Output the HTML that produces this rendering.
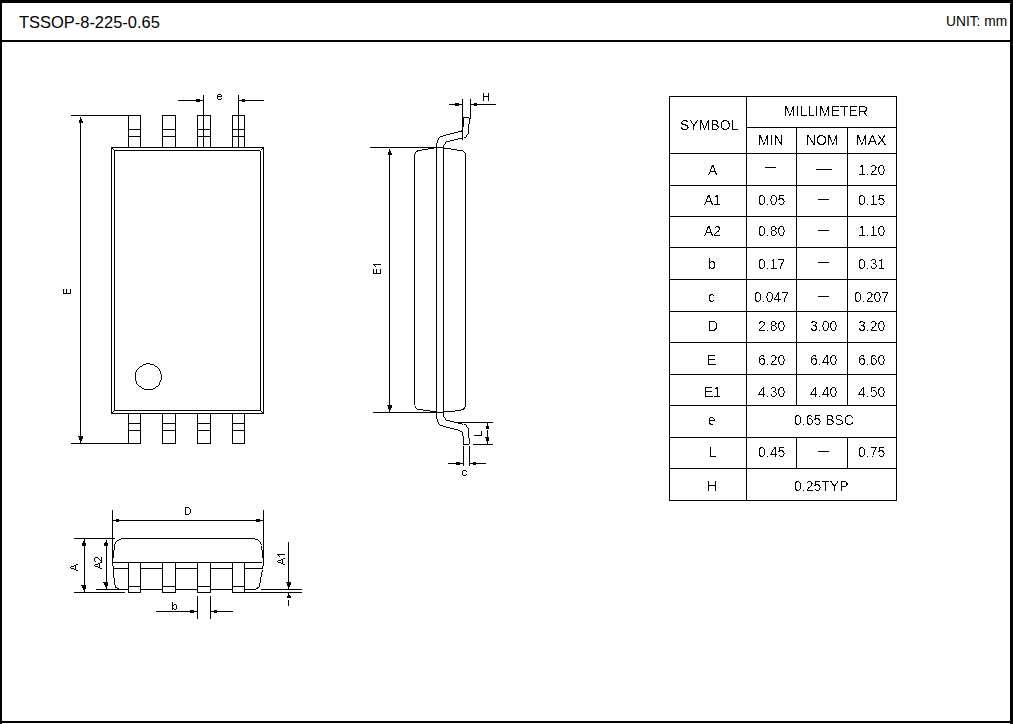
<!DOCTYPE html>
<html><head><meta charset="utf-8"><style>
html,body{margin:0;padding:0;background:#fff;width:1013px;height:724px;overflow:hidden}
svg{display:block}
.s{fill:none;stroke:#000;stroke-width:1}
text{font-family:"Liberation Sans",sans-serif;fill:#000}
</style></head><body>
<svg width="1013" height="724" viewBox="0 0 1013 724" shape-rendering="crispEdges">
<defs><filter id="th" x="-20%" y="-20%" width="140%" height="140%"><feComponentTransfer><feFuncA type="discrete" tableValues="0 0 0 1 1"/></feComponentTransfer></filter></defs>
<rect x="0" y="0" width="1013" height="724" fill="#fff"/>
<rect x="0" y="0" width="1013" height="3"/>
<rect x="0" y="0" width="2" height="724"/>
<rect x="1010" y="0" width="3" height="724"/>
<rect x="0" y="721" width="1013" height="2"/>
<rect x="0" y="40" width="1013" height="2"/>
<rect x="111" y="147" width="153" height="1"/>
<rect x="111" y="413" width="153" height="1"/>
<rect x="111" y="147" width="1" height="267"/>
<rect x="263" y="147" width="1" height="267"/>
<rect x="114" y="150" width="146" height="1"/>
<rect x="260" y="151" width="1" height="260"/>
<rect x="114" y="410" width="147" height="1"/>
<rect x="114" y="150" width="1" height="261"/>
<rect x="112" y="148" width="1" height="1"/>
<rect x="113" y="149" width="1" height="1"/>
<rect x="262" y="148" width="1" height="1"/>
<rect x="261" y="149" width="1" height="1"/>
<rect x="112" y="412" width="1" height="1"/>
<rect x="113" y="411" width="1" height="1"/>
<rect x="262" y="412" width="1" height="1"/>
<rect x="261" y="411" width="1" height="1"/>
<rect x="128" y="115" width="13" height="1"/>
<rect x="128" y="115" width="1" height="33"/>
<rect x="140" y="115" width="1" height="33"/>
<rect x="128" y="129" width="13" height="1"/>
<rect x="128" y="136" width="13" height="1"/>
<rect x="128" y="413" width="1" height="31"/>
<rect x="140" y="413" width="1" height="31"/>
<rect x="128" y="423" width="13" height="1"/>
<rect x="128" y="430" width="13" height="1"/>
<rect x="128" y="443" width="13" height="1"/>
<rect x="162" y="115" width="14" height="1"/>
<rect x="162" y="115" width="1" height="33"/>
<rect x="175" y="115" width="1" height="33"/>
<rect x="162" y="129" width="14" height="1"/>
<rect x="162" y="136" width="14" height="1"/>
<rect x="162" y="413" width="1" height="31"/>
<rect x="175" y="413" width="1" height="31"/>
<rect x="162" y="423" width="14" height="1"/>
<rect x="162" y="430" width="14" height="1"/>
<rect x="162" y="443" width="14" height="1"/>
<rect x="197" y="115" width="14" height="1"/>
<rect x="197" y="115" width="1" height="33"/>
<rect x="210" y="115" width="1" height="33"/>
<rect x="197" y="129" width="14" height="1"/>
<rect x="197" y="136" width="14" height="1"/>
<rect x="197" y="413" width="1" height="31"/>
<rect x="210" y="413" width="1" height="31"/>
<rect x="197" y="423" width="14" height="1"/>
<rect x="197" y="430" width="14" height="1"/>
<rect x="197" y="443" width="14" height="1"/>
<rect x="232" y="115" width="13" height="1"/>
<rect x="232" y="115" width="1" height="33"/>
<rect x="244" y="115" width="1" height="33"/>
<rect x="232" y="129" width="13" height="1"/>
<rect x="232" y="136" width="13" height="1"/>
<rect x="232" y="413" width="1" height="31"/>
<rect x="244" y="413" width="1" height="31"/>
<rect x="232" y="423" width="13" height="1"/>
<rect x="232" y="430" width="13" height="1"/>
<rect x="232" y="443" width="13" height="1"/>
<rect x="71" y="115" width="58" height="1"/>
<rect x="71" y="443" width="58" height="1"/>
<rect x="80" y="117" width="1" height="326"/>
<rect x="80" y="119" width="2" height="1"/>
<rect x="79" y="120" width="3" height="1"/>
<rect x="79" y="121" width="4" height="1"/>
<rect x="79" y="122" width="4" height="1"/>
<rect x="80" y="440" width="2" height="1"/>
<rect x="79" y="439" width="3" height="1"/>
<rect x="79" y="438" width="4" height="1"/>
<rect x="79" y="437" width="4" height="1"/>
<rect x="78" y="436" width="5" height="1"/>
<rect x="203" y="95" width="1" height="53"/>
<rect x="238" y="95" width="1" height="53"/>
<rect x="178" y="100" width="26" height="1"/>
<rect x="196" y="99" width="4" height="3"/>
<rect x="238" y="100" width="26" height="1"/>
<rect x="242" y="99" width="3" height="3"/>
<rect x="135" y="372" width="1" height="9"/>
<rect x="161" y="374" width="1" height="6"/>
<rect x="136" y="370" width="1" height="2"/>
<rect x="136" y="381" width="1" height="3"/>
<rect x="137" y="369" width="1" height="1"/>
<rect x="137" y="384" width="1" height="1"/>
<rect x="138" y="368" width="1" height="1"/>
<rect x="138" y="385" width="1" height="1"/>
<rect x="139" y="367" width="1" height="1"/>
<rect x="139" y="386" width="2" height="1"/>
<rect x="140" y="366" width="2" height="1"/>
<rect x="141" y="387" width="1" height="1"/>
<rect x="142" y="365" width="1" height="1"/>
<rect x="142" y="388" width="2" height="1"/>
<rect x="143" y="364" width="3" height="1"/>
<rect x="146" y="363" width="4" height="1"/>
<rect x="150" y="364" width="4" height="1"/>
<rect x="154" y="365" width="1" height="1"/>
<rect x="155" y="366" width="2" height="1"/>
<rect x="157" y="367" width="1" height="1"/>
<rect x="158" y="368" width="1" height="1"/>
<rect x="159" y="369" width="1" height="2"/>
<rect x="160" y="371" width="1" height="3"/>
<rect x="160" y="380" width="1" height="2"/>
<rect x="159" y="382" width="1" height="3"/>
<rect x="158" y="385" width="1" height="1"/>
<rect x="156" y="386" width="2" height="1"/>
<rect x="155" y="387" width="1" height="1"/>
<rect x="153" y="388" width="2" height="1"/>
<rect x="144" y="389" width="9" height="1"/>
<rect x="414" y="154" width="1" height="251"/>
<rect x="415" y="152" width="1" height="2"/>
<rect x="416" y="151" width="2" height="1"/>
<rect x="417" y="150" width="5" height="1"/>
<rect x="422" y="149" width="6" height="1"/>
<rect x="428" y="148" width="6" height="1"/>
<rect x="370" y="147" width="74" height="1"/>
<rect x="444" y="148" width="7" height="1"/>
<rect x="451" y="149" width="6" height="1"/>
<rect x="457" y="150" width="6" height="1"/>
<rect x="463" y="151" width="1" height="1"/>
<rect x="464" y="152" width="1" height="1"/>
<rect x="465" y="153" width="1" height="254"/>
<rect x="464" y="407" width="1" height="1"/>
<rect x="463" y="408" width="2" height="1"/>
<rect x="461" y="409" width="3" height="1"/>
<rect x="455" y="410" width="6" height="1"/>
<rect x="444" y="411" width="11" height="1"/>
<rect x="415" y="406" width="1" height="2"/>
<rect x="416" y="408" width="1" height="1"/>
<rect x="417" y="409" width="6" height="1"/>
<rect x="423" y="410" width="7" height="1"/>
<rect x="430" y="411" width="6" height="1"/>
<rect x="373" y="412" width="71" height="1"/>
<rect x="436" y="143" width="1" height="276"/>
<rect x="443" y="145" width="1" height="272"/>
<rect x="437" y="140" width="1" height="3"/>
<rect x="438" y="138" width="1" height="2"/>
<rect x="439" y="137" width="1" height="1"/>
<rect x="440" y="136" width="3" height="1"/>
<rect x="443" y="135" width="3" height="1"/>
<rect x="446" y="134" width="4" height="1"/>
<rect x="450" y="133" width="4" height="1"/>
<rect x="454" y="132" width="4" height="1"/>
<rect x="458" y="131" width="3" height="1"/>
<rect x="461" y="130" width="1" height="2"/>
<rect x="444" y="144" width="1" height="1"/>
<rect x="445" y="142" width="1" height="2"/>
<rect x="446" y="141" width="4" height="1"/>
<rect x="450" y="140" width="4" height="1"/>
<rect x="454" y="139" width="4" height="1"/>
<rect x="458" y="138" width="4" height="1"/>
<rect x="462" y="99" width="1" height="41"/>
<rect x="463" y="117" width="1" height="10"/>
<rect x="463" y="117" width="6" height="1"/>
<rect x="470" y="99" width="1" height="20"/>
<rect x="469" y="118" width="1" height="6"/>
<rect x="468" y="124" width="1" height="10"/>
<rect x="467" y="134" width="1" height="1"/>
<rect x="466" y="135" width="1" height="2"/>
<rect x="464" y="137" width="2" height="1"/>
<rect x="437" y="419" width="1" height="3"/>
<rect x="438" y="422" width="1" height="2"/>
<rect x="439" y="424" width="1" height="1"/>
<rect x="440" y="425" width="3" height="1"/>
<rect x="443" y="426" width="3" height="1"/>
<rect x="446" y="427" width="4" height="1"/>
<rect x="450" y="428" width="4" height="1"/>
<rect x="454" y="429" width="4" height="1"/>
<rect x="458" y="430" width="2" height="1"/>
<rect x="460" y="431" width="2" height="1"/>
<rect x="462" y="432" width="1" height="4"/>
<rect x="463" y="436" width="1" height="9"/>
<rect x="444" y="417" width="1" height="1"/>
<rect x="445" y="418" width="1" height="2"/>
<rect x="446" y="420" width="4" height="1"/>
<rect x="450" y="421" width="4" height="1"/>
<rect x="458" y="423" width="4" height="1"/>
<rect x="462" y="424" width="1" height="1"/>
<rect x="464" y="424" width="2" height="1"/>
<rect x="466" y="425" width="1" height="2"/>
<rect x="467" y="427" width="1" height="1"/>
<rect x="468" y="428" width="1" height="10"/>
<rect x="469" y="438" width="1" height="6"/>
<rect x="463" y="444" width="6" height="1"/>
<rect x="389" y="149" width="1" height="263"/>
<rect x="389" y="151" width="2" height="1"/>
<rect x="388" y="152" width="3" height="1"/>
<rect x="388" y="153" width="4" height="1"/>
<rect x="388" y="154" width="4" height="1"/>
<rect x="389" y="409" width="2" height="1"/>
<rect x="388" y="408" width="3" height="1"/>
<rect x="388" y="407" width="4" height="1"/>
<rect x="388" y="406" width="4" height="1"/>
<rect x="387" y="405" width="5" height="1"/>
<rect x="449" y="104" width="14" height="1"/>
<rect x="455" y="103" width="4" height="3"/>
<rect x="470" y="104" width="26" height="1"/>
<rect x="474" y="103" width="3" height="3"/>
<rect x="454" y="422" width="39" height="1"/>
<rect x="473" y="444" width="20" height="1"/>
<rect x="487" y="423" width="1" height="3"/>
<rect x="486" y="426" width="3" height="3"/>
<rect x="487" y="430" width="1" height="7"/>
<rect x="486" y="437" width="3" height="4"/>
<rect x="485" y="437" width="1" height="1"/>
<rect x="487" y="441" width="1" height="3"/>
<rect x="463" y="446" width="1" height="20"/>
<rect x="469" y="446" width="1" height="20"/>
<rect x="448" y="463" width="16" height="1"/>
<rect x="456" y="462" width="4" height="3"/>
<rect x="469" y="463" width="17" height="1"/>
<rect x="473" y="462" width="3" height="3"/>
<rect x="112" y="510" width="1" height="56"/>
<rect x="263" y="510" width="1" height="56"/>
<rect x="112" y="520" width="152" height="1"/>
<rect x="116" y="519" width="3" height="3"/>
<rect x="256" y="519" width="4" height="3"/>
<rect x="121" y="538" width="134" height="1"/>
<rect x="119" y="539" width="2" height="1"/>
<rect x="117" y="540" width="2" height="1"/>
<rect x="116" y="541" width="1" height="1"/>
<rect x="115" y="542" width="1" height="2"/>
<rect x="114" y="544" width="1" height="6"/>
<rect x="113" y="550" width="1" height="8"/>
<rect x="255" y="539" width="3" height="1"/>
<rect x="258" y="540" width="1" height="1"/>
<rect x="259" y="541" width="1" height="1"/>
<rect x="260" y="542" width="1" height="2"/>
<rect x="261" y="544" width="1" height="1"/>
<rect x="261" y="546" width="1" height="4"/>
<rect x="262" y="550" width="1" height="8"/>
<rect x="113" y="562" width="149" height="1"/>
<rect x="113" y="566" width="1" height="12"/>
<rect x="114" y="578" width="1" height="7"/>
<rect x="115" y="585" width="1" height="3"/>
<rect x="116" y="587" width="1" height="1"/>
<rect x="117" y="588" width="2" height="1"/>
<rect x="262" y="566" width="1" height="2"/>
<rect x="262" y="570" width="1" height="2"/>
<rect x="261" y="572" width="1" height="5"/>
<rect x="260" y="577" width="1" height="6"/>
<rect x="259" y="583" width="1" height="4"/>
<rect x="257" y="587" width="2" height="1"/>
<rect x="256" y="588" width="2" height="1"/>
<rect x="114" y="568" width="15" height="1"/>
<rect x="140" y="568" width="23" height="1"/>
<rect x="175" y="568" width="23" height="1"/>
<rect x="210" y="568" width="23" height="1"/>
<rect x="244" y="568" width="19" height="1"/>
<rect x="96" y="589" width="33" height="1"/>
<rect x="140" y="589" width="23" height="1"/>
<rect x="175" y="589" width="23" height="1"/>
<rect x="210" y="589" width="23" height="1"/>
<rect x="244" y="589" width="12" height="1"/>
<rect x="261" y="589" width="41" height="1"/>
<rect x="128" y="562" width="1" height="31"/>
<rect x="140" y="562" width="1" height="31"/>
<rect x="128" y="586" width="13" height="1"/>
<rect x="128" y="592" width="13" height="1"/>
<rect x="162" y="562" width="1" height="31"/>
<rect x="175" y="562" width="1" height="31"/>
<rect x="162" y="586" width="14" height="1"/>
<rect x="162" y="592" width="14" height="1"/>
<rect x="197" y="562" width="1" height="31"/>
<rect x="210" y="562" width="1" height="31"/>
<rect x="197" y="586" width="14" height="1"/>
<rect x="197" y="592" width="14" height="1"/>
<rect x="232" y="562" width="1" height="31"/>
<rect x="244" y="562" width="1" height="31"/>
<rect x="232" y="586" width="13" height="1"/>
<rect x="232" y="592" width="13" height="1"/>
<rect x="74" y="538" width="41" height="1"/>
<rect x="74" y="592" width="51" height="1"/>
<rect x="244" y="592" width="58" height="1"/>
<rect x="84" y="539" width="1" height="53"/>
<rect x="83" y="541" width="2" height="1"/>
<rect x="83" y="542" width="2" height="1"/>
<rect x="82" y="543" width="4" height="1"/>
<rect x="82" y="544" width="4" height="1"/>
<rect x="82" y="545" width="4" height="1"/>
<rect x="81" y="585" width="5" height="1"/>
<rect x="82" y="586" width="4" height="1"/>
<rect x="82" y="587" width="4" height="1"/>
<rect x="83" y="588" width="3" height="1"/>
<rect x="83" y="589" width="2" height="1"/>
<rect x="106" y="540" width="1" height="49"/>
<rect x="105" y="542" width="2" height="1"/>
<rect x="104" y="543" width="4" height="1"/>
<rect x="104" y="544" width="4" height="1"/>
<rect x="104" y="545" width="4" height="1"/>
<rect x="103" y="582" width="5" height="1"/>
<rect x="104" y="583" width="4" height="1"/>
<rect x="104" y="584" width="4" height="1"/>
<rect x="105" y="585" width="3" height="1"/>
<rect x="105" y="586" width="2" height="1"/>
<rect x="288" y="542" width="1" height="47"/>
<rect x="286" y="582" width="5" height="1"/>
<rect x="287" y="583" width="4" height="1"/>
<rect x="287" y="584" width="4" height="1"/>
<rect x="287" y="585" width="3" height="1"/>
<rect x="288" y="586" width="2" height="1"/>
<rect x="288" y="593" width="1" height="5"/>
<rect x="288" y="595" width="2" height="1"/>
<rect x="287" y="596" width="4" height="1"/>
<rect x="287" y="597" width="4" height="1"/>
<rect x="288" y="600" width="1" height="6"/>
<rect x="197" y="596" width="1" height="23"/>
<rect x="210" y="596" width="1" height="23"/>
<rect x="156" y="611" width="42" height="1"/>
<rect x="190" y="610" width="4" height="3"/>
<rect x="210" y="611" width="23" height="1"/>
<rect x="214" y="610" width="3" height="3"/>
<rect x="218" y="94" width="3" height="1"/>
<rect x="217" y="95" width="1" height="1"/>
<rect x="221" y="95" width="1" height="1"/>
<rect x="217" y="96" width="5" height="1"/>
<rect x="217" y="97" width="1" height="1"/>
<rect x="217" y="98" width="1" height="1"/>
<rect x="221" y="98" width="1" height="1"/>
<rect x="218" y="99" width="3" height="1"/>
<rect x="483" y="93" width="1" height="8"/>
<rect x="488" y="93" width="1" height="8"/>
<rect x="484" y="96" width="4" height="1"/>
<rect x="463" y="470" width="3" height="1"/>
<rect x="462" y="471" width="1" height="1"/>
<rect x="466" y="471" width="1" height="1"/>
<rect x="462" y="472" width="1" height="2"/>
<rect x="462" y="474" width="1" height="1"/>
<rect x="466" y="474" width="1" height="1"/>
<rect x="463" y="475" width="3" height="1"/>
<rect x="185" y="507" width="1" height="8"/>
<rect x="186" y="507" width="3" height="1"/>
<rect x="189" y="508" width="1" height="1"/>
<rect x="190" y="509" width="1" height="4"/>
<rect x="189" y="513" width="1" height="1"/>
<rect x="186" y="514" width="3" height="1"/>
<rect x="172" y="602" width="1" height="8"/>
<rect x="174" y="604" width="2" height="1"/>
<rect x="173" y="605" width="1" height="1"/>
<rect x="176" y="605" width="1" height="4"/>
<rect x="173" y="608" width="1" height="1"/>
<rect x="174" y="609" width="2" height="1"/>
<rect x="63" y="293" width="8" height="1"/>
<rect x="63" y="289" width="1" height="4"/>
<rect x="66" y="289" width="1" height="4"/>
<rect x="70" y="289" width="1" height="4"/>
<rect x="373" y="264" width="8" height="1"/>
<rect x="374" y="265" width="1" height="1"/>
<rect x="375" y="266" width="1" height="1"/>
<rect x="373" y="273" width="8" height="1"/>
<rect x="373" y="269" width="1" height="4"/>
<rect x="376" y="269" width="1" height="4"/>
<rect x="380" y="269" width="1" height="4"/>
<rect x="474" y="435" width="8" height="1"/>
<rect x="481" y="431" width="1" height="4"/>
<rect x="76" y="564" width="2" height="1"/>
<rect x="74" y="565" width="2" height="1"/>
<rect x="71" y="566" width="3" height="1"/>
<rect x="70" y="567" width="1" height="1"/>
<rect x="71" y="568" width="3" height="1"/>
<rect x="74" y="569" width="2" height="1"/>
<rect x="76" y="570" width="2" height="1"/>
<rect x="75" y="566" width="1" height="3"/>
<rect x="95" y="557" width="3" height="1"/>
<rect x="101" y="557" width="1" height="6"/>
<rect x="94" y="558" width="1" height="1"/>
<rect x="98" y="558" width="1" height="1"/>
<rect x="94" y="559" width="1" height="1"/>
<rect x="99" y="559" width="1" height="1"/>
<rect x="94" y="560" width="1" height="1"/>
<rect x="100" y="560" width="1" height="1"/>
<rect x="95" y="561" width="1" height="1"/>
<rect x="100" y="562" width="1" height="1"/>
<rect x="98" y="563" width="2" height="1"/>
<rect x="95" y="564" width="3" height="1"/>
<rect x="94" y="565" width="1" height="1"/>
<rect x="95" y="566" width="3" height="1"/>
<rect x="99" y="564" width="1" height="3"/>
<rect x="98" y="567" width="2" height="1"/>
<rect x="100" y="568" width="2" height="1"/>
<rect x="277" y="554" width="8" height="1"/>
<rect x="278" y="555" width="1" height="1"/>
<rect x="279" y="556" width="1" height="1"/>
<rect x="283" y="558" width="2" height="1"/>
<rect x="281" y="559" width="2" height="1"/>
<rect x="278" y="560" width="3" height="1"/>
<rect x="277" y="561" width="1" height="1"/>
<rect x="278" y="562" width="3" height="1"/>
<rect x="282" y="560" width="1" height="3"/>
<rect x="281" y="563" width="2" height="1"/>
<rect x="283" y="564" width="2" height="1"/>
<rect x="669" y="96" width="228" height="1"/>
<rect x="669" y="500" width="228" height="1"/>
<rect x="669" y="96" width="1" height="405"/>
<rect x="896" y="96" width="1" height="405"/>
<rect x="746" y="96" width="1" height="405"/>
<rect x="746" y="127" width="151" height="1"/>
<rect x="669" y="153" width="228" height="1"/>
<rect x="669" y="185" width="228" height="1"/>
<rect x="669" y="216" width="228" height="1"/>
<rect x="669" y="247" width="228" height="1"/>
<rect x="669" y="279" width="228" height="1"/>
<rect x="669" y="311" width="228" height="1"/>
<rect x="669" y="342" width="228" height="1"/>
<rect x="669" y="374" width="228" height="1"/>
<rect x="669" y="405" width="228" height="1"/>
<rect x="669" y="437" width="228" height="1"/>
<rect x="669" y="468" width="228" height="1"/>
<rect x="796" y="127" width="1" height="279"/>
<rect x="847" y="127" width="1" height="279"/>
<rect x="796" y="437" width="1" height="32"/>
<rect x="847" y="437" width="1" height="32"/>
<rect x="765" y="167" width="11" height="1"/>
<rect x="816" y="169" width="16" height="1"/>
<rect x="818" y="199" width="11" height="1"/>
<rect x="818" y="230" width="11" height="1"/>
<rect x="818" y="262" width="11" height="1"/>
<rect x="818" y="296" width="11" height="1"/>
<rect x="818" y="451" width="11" height="1"/>
<g transform="matrix(1.0294 0 0 1.0000 19.000 28.000)"><text x="0" y="0" font-size="16">TSSOP-8-225-0.65</text></g>
<g transform="matrix(0.9833 0 0 1.0000 946.017 26.000)"><text x="0" y="0" font-size="14">UNIT: mm</text></g>
<g transform="matrix(1.0000 0 0 1.0000 784.000 116.000)"><text x="0" y="0" font-size="14" filter="url(#th)">MILLIMETER</text></g>
<g transform="matrix(1.0000 0 0 1.0000 680.000 130.000)"><text x="0" y="0" font-size="14" filter="url(#th)">SYMBOL</text></g>
<g transform="matrix(1.0000 0 0 1.0000 758.000 145.000)"><text x="0" y="0" font-size="14" filter="url(#th)">MIN</text></g>
<g transform="matrix(1.0000 0 0 1.0000 806.000 145.000)"><text x="0" y="0" font-size="14" filter="url(#th)">NOM</text></g>
<g transform="matrix(1.0000 0 0 1.0000 856.000 145.000)"><text x="0" y="0" font-size="14" filter="url(#th)">MAX</text></g>
<g transform="matrix(1.0000 0 0 1.0000 708.000 175.000)"><text x="0" y="0" font-size="14" filter="url(#th)">A</text></g>
<g transform="matrix(1.0000 0 0 1.0000 858.000 175.000)"><text x="0" y="0" font-size="14" filter="url(#th)">1.20</text></g>
<g transform="matrix(1.0000 0 0 1.0000 704.000 205.000)"><text x="0" y="0" font-size="14" filter="url(#th)">A1</text></g>
<g transform="matrix(1.0000 0 0 1.0000 758.000 205.000)"><text x="0" y="0" font-size="14" filter="url(#th)">0.05</text></g>
<g transform="matrix(1.0000 0 0 1.0000 858.000 205.000)"><text x="0" y="0" font-size="14" filter="url(#th)">0.15</text></g>
<g transform="matrix(1.0000 0 0 1.0000 704.000 236.000)"><text x="0" y="0" font-size="14" filter="url(#th)">A2</text></g>
<g transform="matrix(1.0000 0 0 1.0000 758.000 236.000)"><text x="0" y="0" font-size="14" filter="url(#th)">0.80</text></g>
<g transform="matrix(1.0000 0 0 1.0000 858.000 236.000)"><text x="0" y="0" font-size="14" filter="url(#th)">1.10</text></g>
<g transform="matrix(1.0000 0 0 1.0000 708.000 269.000)"><text x="0" y="0" font-size="14" filter="url(#th)">b</text></g>
<g transform="matrix(1.0000 0 0 1.0000 758.000 269.000)"><text x="0" y="0" font-size="14" filter="url(#th)">0.17</text></g>
<g transform="matrix(1.0000 0 0 1.0000 858.000 269.000)"><text x="0" y="0" font-size="14" filter="url(#th)">0.31</text></g>
<g transform="matrix(1.0000 0 0 1.0000 708.000 302.000)"><text x="0" y="0" font-size="14" filter="url(#th)">c</text></g>
<g transform="matrix(1.0000 0 0 1.0000 754.000 302.000)"><text x="0" y="0" font-size="14" filter="url(#th)">0.047</text></g>
<g transform="matrix(1.0000 0 0 1.0000 854.000 302.000)"><text x="0" y="0" font-size="14" filter="url(#th)">0.207</text></g>
<g transform="matrix(1.0000 0 0 1.0000 708.000 331.000)"><text x="0" y="0" font-size="14" filter="url(#th)">D</text></g>
<g transform="matrix(1.0000 0 0 1.0000 758.000 331.000)"><text x="0" y="0" font-size="14" filter="url(#th)">2.80</text></g>
<g transform="matrix(1.0000 0 0 1.0000 810.000 331.000)"><text x="0" y="0" font-size="14" filter="url(#th)">3.00</text></g>
<g transform="matrix(1.0000 0 0 1.0000 858.000 331.000)"><text x="0" y="0" font-size="14" filter="url(#th)">3.20</text></g>
<g transform="matrix(1.0000 0 0 1.0000 707.000 365.000)"><text x="0" y="0" font-size="14" filter="url(#th)">E</text></g>
<g transform="matrix(1.0000 0 0 1.0000 758.000 365.000)"><text x="0" y="0" font-size="14" filter="url(#th)">6.20</text></g>
<g transform="matrix(1.0000 0 0 1.0000 810.000 365.000)"><text x="0" y="0" font-size="14" filter="url(#th)">6.40</text></g>
<g transform="matrix(1.0000 0 0 1.0000 858.000 365.000)"><text x="0" y="0" font-size="14" filter="url(#th)">6.60</text></g>
<g transform="matrix(1.0000 0 0 1.0000 704.000 397.000)"><text x="0" y="0" font-size="14" filter="url(#th)">E1</text></g>
<g transform="matrix(1.0000 0 0 1.0000 758.000 397.000)"><text x="0" y="0" font-size="14" filter="url(#th)">4.30</text></g>
<g transform="matrix(1.0000 0 0 1.0000 810.000 397.000)"><text x="0" y="0" font-size="14" filter="url(#th)">4.40</text></g>
<g transform="matrix(1.0000 0 0 1.0000 858.000 397.000)"><text x="0" y="0" font-size="14" filter="url(#th)">4.50</text></g>
<g transform="matrix(1.0000 0 0 1.0000 708.000 425.000)"><text x="0" y="0" font-size="14" filter="url(#th)">e</text></g>
<g transform="matrix(1.0000 0 0 1.0000 794.000 425.000)"><text x="0" y="0" font-size="14" filter="url(#th)">0.65 BSC</text></g>
<g transform="matrix(1.0000 0 0 1.0000 709.000 457.000)"><text x="0" y="0" font-size="14" filter="url(#th)">L</text></g>
<g transform="matrix(1.0000 0 0 1.0000 758.000 457.000)"><text x="0" y="0" font-size="14" filter="url(#th)">0.45</text></g>
<g transform="matrix(1.0000 0 0 1.0000 858.000 457.000)"><text x="0" y="0" font-size="14" filter="url(#th)">0.75</text></g>
<g transform="matrix(1.0000 0 0 1.0000 707.000 491.000)"><text x="0" y="0" font-size="14" filter="url(#th)">H</text></g>
<g transform="matrix(1.0000 0 0 1.0000 794.000 491.000)"><text x="0" y="0" font-size="14" filter="url(#th)">0.25TYP</text></g>
</svg></body></html>
